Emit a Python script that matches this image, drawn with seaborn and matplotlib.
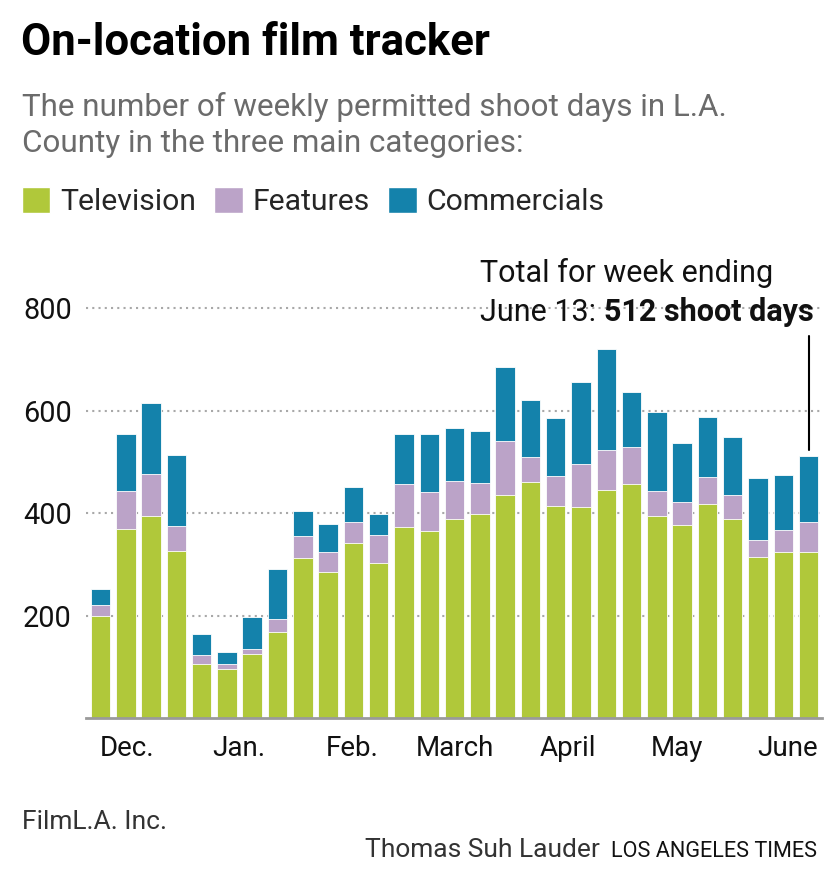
import pandas as pd
import numpy as np
import matplotlib.pyplot as plt
import seaborn as sns
from matplotlib.patches import Patch

# --- DATA: weekly permitted shoot days ---
television = [200, 369, 395, 326, 105, 96, 126, 168, 313, 285, 343, 304, 373, 366,
              389, 399, 436, 462, 415, 412, 445, 458, 395, 378, 419, 389, 315, 325, 325]
features = [21, 74, 82, 49, 19, 10, 10, 26, 43, 39, 41, 54, 84, 76,
            74, 61, 105, 48, 57, 84, 78, 71, 48, 45, 51, 47, 33, 42, 59]
commercials = [31, 112, 139, 139, 41, 23, 62, 97, 48, 55, 68, 41, 97, 112,
               103, 100, 145, 112, 113, 161, 198, 108, 154, 115, 117, 113, 120, 107, 128]

month_labels = ['Dec.', 'Jan.', 'Feb.', 'March', 'April', 'May', 'June']
month_pos = [1.06, 5.48, 9.94, 14.0, 18.49, 22.78, 27.17]
y_ticks = [200, 400, 600, 800]

GREEN = '#b0c83a'
LAVENDER = '#bba3c8'
TEAL = '#1482ab'

df = pd.DataFrame({'week': range(len(television)),
                   'tv': television, 'feat': features, 'com': commercials})
df['tv_feat'] = df['tv'] + df['feat']
df['total'] = df['tv_feat'] + df['com']

sns.set_style('white')
plt.rcParams['font.family'] = ['Roboto', 'DejaVu Sans']

W, H = 840, 893
fig = plt.figure(figsize=(W / 100, H / 100), dpi=100)

def fx(x):
    return x / W

def fy(y):
    return 1 - y / H

ax = fig.add_axes([fx(86), fy(718.3), fx(822 - 86), 850 * 0.5125 / H])

# stacked bars, drawn back to front
for col, color in [('total', TEAL), ('tv_feat', LAVENDER), ('tv', GREEN)]:
    sns.barplot(data=df, x='week', y=col, color=color, saturation=1, width=0.77,
                edgecolor='white', linewidth=0.6, ax=ax, errorbar=None, zorder=3)

ax.set_xlim(-0.573, 28.53)
ax.set_ylim(0, 850)
ax.set_xlabel('')
ax.set_ylabel('')
ax.set_xticks(month_pos, month_labels)
ax.set_yticks(y_ticks, [str(v) for v in y_ticks])
ax.tick_params(axis='x', length=0, pad=12, labelsize=20)
ax.tick_params(axis='y', length=0, pad=10.3, labelsize=20.8)
for lab in ax.get_xticklabels() + ax.get_yticklabels():
    lab.set_color('#111111')

ax.set_axisbelow(True)
ax.yaxis.grid(True, linestyle=(0, (1, 2)), linewidth=1.5, color='#a8a8a8')
ax.xaxis.grid(False)
for s in ['top', 'right', 'left']:
    ax.spines[s].set_visible(False)
ax.spines['bottom'].set_color('#9a9a9a')
ax.spines['bottom'].set_linewidth(2)
ax.spines['bottom'].set_zorder(4)

# annotation for the latest week
last = len(df) - 1
ax.plot([last, last], [df['total'].iloc[-1] + 12, 745], color='black', lw=1.5, zorder=5)
fig.text(fx(480), fy(282), 'Total for week ending', fontsize=22, color='#111111', va='baseline')
t_june = fig.text(fx(480), fy(321), 'June 13:', fontsize=22, color='#111111', va='baseline')
ax.annotate('512 shoot days', xy=(1, 0), xycoords=t_june, xytext=(6, 0),
            textcoords='offset points', fontsize=22, fontweight='bold',
            color='#111111', va='bottom', ha='left', annotation_clip=False)

# header
fig.text(fx(21), fy(55), 'On-location film tracker', fontsize=31.5, fontweight='bold',
         color='black', va='baseline')
fig.text(fx(22), fy(116), 'The number of weekly permitted shoot days in L.A.',
         fontsize=22.6, color='#6b6b6b', va='baseline')
fig.text(fx(22), fy(151.5), 'County in the three main categories:',
         fontsize=22.6, color='#6b6b6b', va='baseline')

handles = [Patch(facecolor=GREEN, label='Television'),
           Patch(facecolor=LAVENDER, label='Features'),
           Patch(facecolor=TEAL, label='Commercials')]
fig.legend(handles=handles, loc='center left', bbox_to_anchor=(fx(21.7), fy(201.5)),
           ncol=3, frameon=False, fontsize=21.7, handlelength=0.95, handleheight=0.95,
           handletextpad=0.33, columnspacing=0.6, borderpad=0, borderaxespad=0)

# footer
fig.text(fx(22), fy(829), 'FilmL.A. Inc.', fontsize=19, color='#333333', va='baseline')
fig.text(fx(365), fy(857), 'Thomas Suh Lauder', fontsize=19, color='#333333', va='baseline')
fig.text(fx(817), fy(857), 'LOS ANGELES TIMES', fontsize=15.6, color='#111111',
         va='baseline', ha='right')

fig.savefig('out.png', dpi=100)
